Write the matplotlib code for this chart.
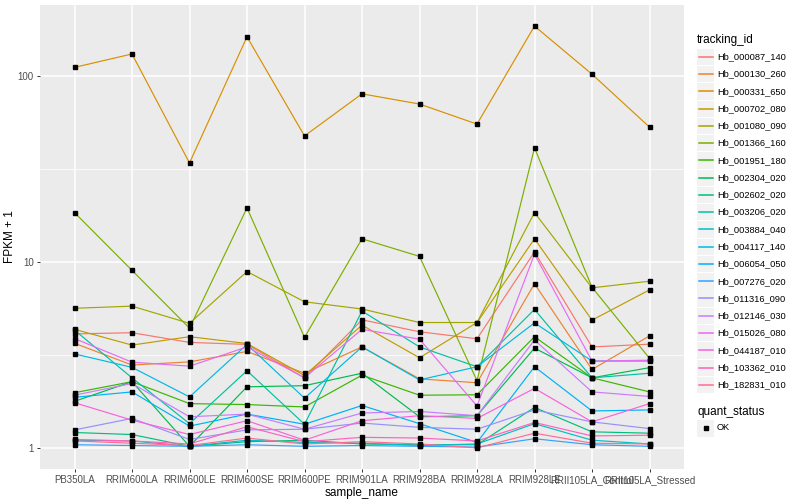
import numpy as np
import matplotlib.pyplot as plt
from matplotlib.patches import Rectangle
from matplotlib.ticker import FixedLocator, NullFormatter

plt.rcParams['font.family'] = ['Liberation Sans', 'DejaVu Sans']

samples = ['PB350LA', 'RRIM600LA', 'RRIM600LE', 'RRIM600SE', 'RRIM600PE',
           'RRIM901LA', 'RRIM928BA', 'RRIM928LA', 'RRIM928LE',
           'RRII105LA_Control', 'RRII105LA_Stressed']

tracking_ids = ['Hb_000087_140', 'Hb_000130_260', 'Hb_000331_650', 'Hb_000702_080',
                'Hb_001080_090', 'Hb_001366_160', 'Hb_001951_180', 'Hb_002304_020',
                'Hb_002602_020', 'Hb_003206_020', 'Hb_003884_040', 'Hb_004117_140',
                'Hb_006054_050', 'Hb_007276_020', 'Hb_011316_090', 'Hb_012146_030',
                'Hb_015026_080', 'Hb_044187_010', 'Hb_103362_010', 'Hb_182831_010']

# ggplot hue palette, 20 levels
colors = ['#F8766D', '#EA8331', '#D89000', '#C09B00', '#A3A500', '#7CAE00',
          '#39B600', '#00BB4E', '#00BF7D', '#00C1A3', '#00BFC4', '#00BAE0',
          '#00B0F6', '#35A2FF', '#9590FF', '#C77CFF', '#E76BF3', '#FA62DB',
          '#FF62BC', '#FF6C91']

# FPKM + 1 per sample
hb_000087_140 = [4.10, 4.16, 3.69, 3.60, 2.38, 4.88, 4.21, 3.86, 11.3, 3.49, 3.61]
hb_000130_260 = [3.65, 2.79, 2.90, 3.30, 2.52, 3.49, 2.35, 2.24, 7.63, 2.64, 4.00]
hb_000331_650 = [111, 131, 34, 162, 47.5, 80, 70.5, 55, 185, 102, 53]
hb_000702_080 = [4.34, 3.57, 3.96, 3.64, 2.45, 4.57, 3.05, 4.72, 13.3, 4.86, 7.07]
hb_001080_090 = [5.63, 5.78, 4.67, 8.87, 6.10, 5.58, 4.72, 4.72, 18.4, 7.25, 7.87]
hb_001366_160 = [18.4, 9.0, 4.40, 19.5, 3.93, 13.3, 10.7, 2.30, 41.0, 7.30, 3.03]
hb_001951_180 = [1.98, 2.27, 1.73, 1.71, 1.66, 2.46, 1.92, 1.93, 3.96, 2.38, 2.00]
hb_002304_020 = [1.78, 2.27, 1.02, 2.13, 2.16, 2.52, 1.47, 1.49, 3.44, 2.38, 2.70]
hb_002602_020 = [1.21, 1.18, 1.02, 1.08, 1.10, 1.05, 1.04, 1.04, 1.65, 1.22, 1.20]
hb_003206_020 = [4.30, 2.38, 1.35, 2.60, 1.34, 5.44, 3.49, 2.73, 5.55, 2.38, 2.52]
hb_003884_040 = [1.10, 1.09, 1.02, 1.10, 1.07, 1.06, 1.03, 1.05, 1.35, 1.10, 1.05]
hb_004117_140 = [3.20, 2.71, 1.88, 3.60, 1.85, 3.49, 2.32, 2.73, 4.70, 2.93, 2.93]
hb_006054_050 = [1.87, 2.00, 1.31, 1.52, 1.34, 1.69, 1.35, 1.07, 2.73, 1.58, 1.60]
hb_007276_020 = [1.04, 1.03, 1.02, 1.04, 1.02, 1.03, 1.02, 1.01, 1.12, 1.04, 1.02]
hb_011316_090 = [1.25, 1.44, 1.11, 1.25, 1.26, 1.36, 1.29, 1.26, 1.60, 1.38, 1.27]
hb_012146_030 = [1.92, 2.22, 1.47, 1.52, 1.26, 1.54, 1.57, 1.49, 3.80, 2.00, 1.89]
hb_015026_080 = [3.87, 2.89, 2.75, 3.49, 2.38, 4.34, 3.84, 1.68, 11.0, 2.93, 2.96]
hb_044187_010 = [1.75, 1.41, 1.18, 1.40, 1.10, 1.40, 1.49, 1.44, 2.09, 1.38, 1.73]
hb_103362_010 = [1.11, 1.09, 1.05, 1.30, 1.08, 1.14, 1.13, 1.09, 1.37, 1.16, 1.17]
hb_182831_010 = [1.09, 1.06, 1.03, 1.13, 1.05, 1.08, 1.05, 1.00, 1.20, 1.06, 1.05]

series = [hb_000087_140, hb_000130_260, hb_000331_650, hb_000702_080, hb_001080_090,
          hb_001366_160, hb_001951_180, hb_002304_020, hb_002602_020, hb_003206_020,
          hb_003884_040, hb_004117_140, hb_006054_050, hb_007276_020, hb_011316_090,
          hb_012146_030, hb_015026_080, hb_044187_010, hb_103362_010, hb_182831_010]

fig = plt.figure(figsize=(8, 5), dpi=100)
ax = fig.add_axes([40 / 800, 31 / 500, 644 / 800, 464 / 500])
ax.set_facecolor('#EBEBEB')

x = np.arange(1, len(samples) + 1)
for vals, col in zip(series, colors):
    ax.plot(x, vals, color=col, lw=0.85, zorder=2)
for vals in series:
    ax.plot(x, vals, ls='none', marker='s', ms=2.5, color='black', zorder=3)

ax.set_yscale('log')
allv = np.concatenate([np.array(v, dtype=float) for v in series])
lo, hi = np.log10(allv.min()), np.log10(allv.max())
pad = 0.05 * (hi - lo)
ax.set_ylim(10 ** (lo - pad), 10 ** (hi + pad))
ax.set_xlim(0.4, len(samples) + 0.6)

ax.yaxis.set_major_locator(FixedLocator([1, 10, 100]))
ax.set_yticklabels(['1', '10', '100'])
ax.yaxis.set_minor_locator(FixedLocator([10 ** 0.5, 10 ** 1.5]))
ax.yaxis.set_minor_formatter(NullFormatter())
ax.set_xticks(x)
ax.set_xticklabels(samples)

ax.grid(which='major', color='white', lw=1.1)
ax.grid(which='minor', axis='y', color='white', lw=0.55)
ax.set_axisbelow(True)
for s in ax.spines.values():
    s.set_visible(False)
ax.tick_params(which='major', length=2.5, width=0.7, color='#333333',
               labelsize=7, labelcolor='#4D4D4D', pad=2)
ax.tick_params(which='minor', length=0)

ax.set_xlabel('sample_name', fontsize=8.5, labelpad=1)
ax.set_ylabel('FPKM + 1', fontsize=8.5, labelpad=1)

# legend drawn in a pixel-based axes
lg = fig.add_axes([0, 0, 1, 1], facecolor='none')
lg.set_xlim(0, 800)
lg.set_ylim(500, 0)
lg.axis('off')

lg.text(697, 40.5, 'tracking_id', fontsize=8.5, va='center', ha='left')
y0, dy = 56.7, 17.27
for i, (tid, col) in enumerate(zip(tracking_ids, colors)):
    yc = y0 + i * dy
    lg.add_patch(Rectangle((697, yc - 8), 17, 16.3, facecolor='#F2F2F2', edgecolor='none'))
    lg.plot([698.5, 712.5], [yc, yc], color=col, lw=1.1)
    lg.text(717, yc, tid, fontsize=6.7, va='center', ha='left')

lg.text(697, 411.5, 'quant_status', fontsize=8.5, va='center', ha='left')
lg.add_patch(Rectangle((697, 419.5), 17, 17, facecolor='#F2F2F2', edgecolor='none'))
lg.plot([705.5], [428], ls='none', marker='s', ms=2.5, color='black')
lg.text(717, 428, 'OK', fontsize=6.7, va='center', ha='left')

fig.savefig('out.png', dpi=100)
